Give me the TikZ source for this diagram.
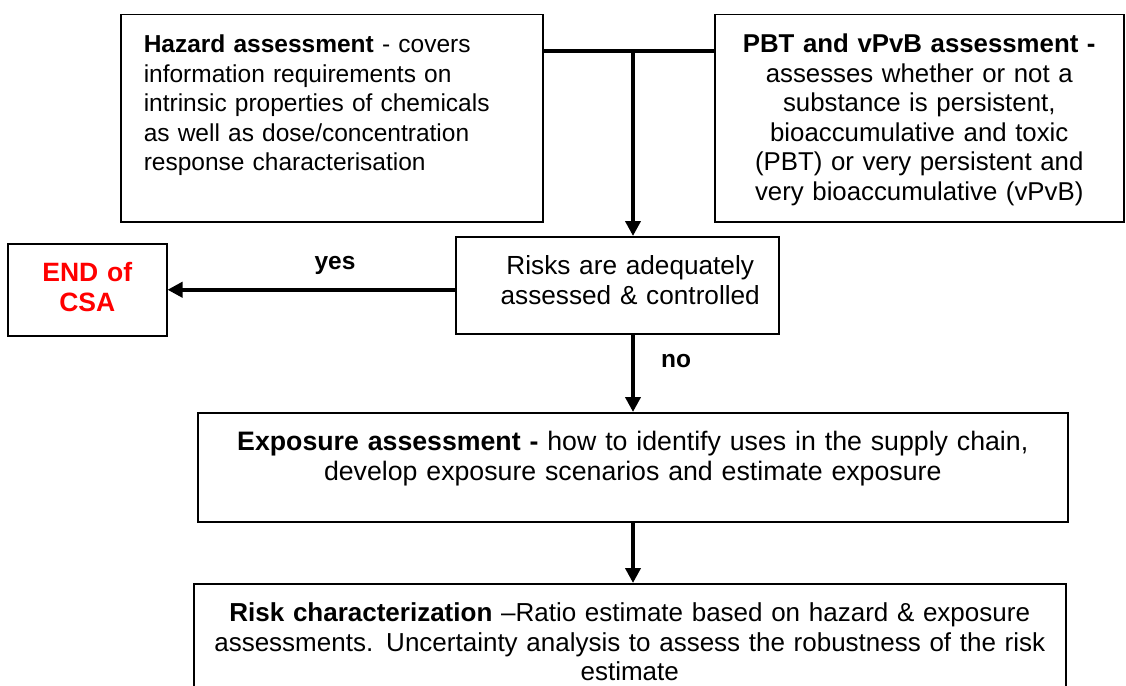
\documentclass[tikz,border=0pt]{standalone}
\usepackage{fontspec}
\setmainfont{Liberation Sans}
\usetikzlibrary{positioning, arrows.meta}

\newcommand{\chartfont}[1][24.5]{\fontsize{#1}{29.5}\selectfont}

\begin{document}
\begin{tikzpicture}[
    x=1pt, y=-1pt,
    font=\chartfont,
    box/.style={
        draw,
        line width=1.5pt,
        anchor=north west,
        align=center,
        inner xsep=0pt,
        inner ysep=5pt,
        text height=33pt
    },
    lbl/.style={
        font=\chartfont\bfseries
    },
    arrow/.style={
        -{Triangle[length=15pt, width=15pt]},
        line width=4pt
    }
]

\useasboundingbox (0,0) rectangle (1126,685);
\clip (0,0) rectangle (1126,685);

\node[box, align=left, inner xsep=23pt, text width=376pt, text depth=164pt] (hazard) at (120,14)
    {\textbf{Hazard assessment} - covers\\information requirements on\\intrinsic properties of chemicals\\as well as dose/concentration\\response characterisation};

\node[box, text width=409pt, text depth=164pt, font={\chartfont[25.8]}] (pbt) at (714,14)
    {\textbf{PBT and vPvB assessment -}\\assesses whether or not a\\substance is persistent,\\bioaccumulative and toxic\\(PBT) or very persistent and\\very bioaccumulative (vPvB)};

\node[box, text width=323pt, text depth=54pt, font={\chartfont[26.2]}] (risk) at (455,236)
    {\hspace*{26pt}Risks are adequately\\\hspace*{26pt}assessed \& controlled};

\node[box, text width=159pt, text depth=49pt, text=red, font={\chartfont[26.5]\bfseries}] (endcsa) at (7,243)
    {END of\\CSA};

\node[box, text width=870pt, text depth=66pt, font={\chartfont[26.7]}] (expo) at (197,412)
    {\textbf{Exposure assessment -} how to identify uses in the supply chain,\\develop exposure scenarios and estimate exposure};

\node[box, text width=872pt, text depth=74pt, font={\chartfont[26]}] (riskchar) at (193,583)
    {\textbf{Risk characterization} –Ratio estimate based on hazard \& exposure\\assessments. Uncertainty analysis to assess the robustness of the risk\\estimate};

\coordinate (join) at (633,51);

\node[lbl] (yes) at (335,265) {yes};
\node[lbl] (no) at (676,361) {no};

\draw[line width=4pt] (hazard.north east |- join) -- (pbt.north west |- join);
\draw[arrow] (join) -- (join |- risk.north);
\draw[arrow] (risk.west |- endcsa.east) -- (endcsa.east);
\draw[arrow] (join |- risk.south) -- (join |- expo.north);
\draw[arrow] (join |- expo.south) -- (join |- riskchar.north);

\end{tikzpicture}
\end{document}
